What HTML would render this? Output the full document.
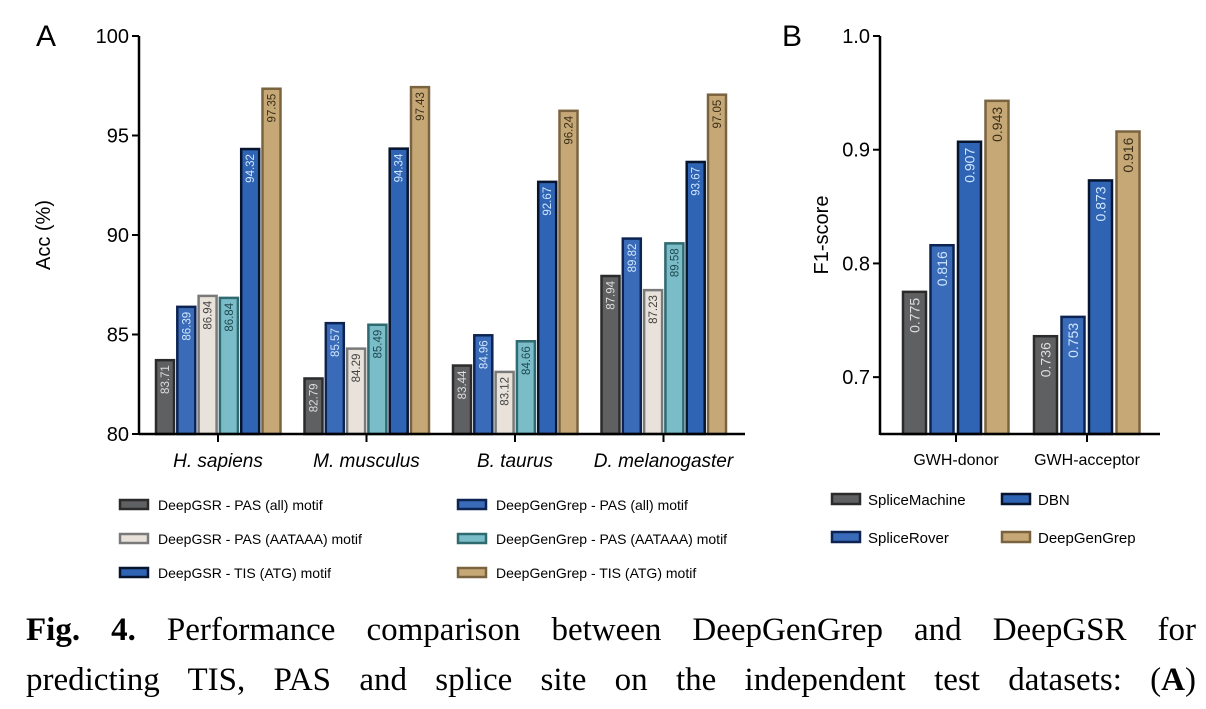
<!DOCTYPE html>
<html><head><meta charset="utf-8"><style>
body{margin:0;background:#fff;width:1206px;height:709px;overflow:hidden;position:relative}
svg{position:absolute;left:0;top:0}
.cap{position:absolute;left:26px;width:1170px;font-family:"Liberation Serif",serif;font-size:33px;line-height:50px;text-align:justify;text-align-last:justify;color:#000;height:50px;overflow:hidden}
</style></head><body>
<svg id="chart" width="1206" height="600" font-family="Liberation Sans, sans-serif"></svg>
<div class="cap" style="top:605px"><b>Fig. 4.</b> Performance comparison between DeepGenGrep and DeepGSR for</div>
<div class="cap" style="top:655px">predicting TIS, PAS and splice site on the independent test datasets: (<b>A</b>)</div>
<script>
const catsA=["H. sapiens","M. musculus","B. taurus","D. melanogaster"];
const seriesA=[
 [83.71,82.79,83.44,87.94],
 [86.39,85.57,84.96,89.82],
 [86.94,84.29,83.12,87.23],
 [86.84,85.49,84.66,89.58],
 [94.32,94.34,92.67,93.67],
 [97.35,97.43,96.24,97.05]];
const ticksA=[80,85,90,95,100];
const legendA=["DeepGSR - PAS (all) motif","DeepGSR - PAS (AATAAA) motif","DeepGSR - TIS (ATG) motif","DeepGenGrep - PAS (all) motif","DeepGenGrep - PAS (AATAAA) motif","DeepGenGrep - TIS (ATG) motif"];
const catsB=["GWH-donor","GWH-acceptor"];
const seriesB=[[0.775,0.736],[0.816,0.753],[0.907,0.873],[0.943,0.916]];
const ticksB=[0.7,0.8,0.9,1.0];
const legendB=["SpliceMachine","DBN","SpliceRover","DeepGenGrep"];

const svg=document.getElementById('chart');
const NS='http://www.w3.org/2000/svg';
function mk(t,a,p){const e=document.createElementNS(NS,t);for(const k in a)e.setAttribute(k,a[k]);(p||svg).appendChild(e);return e;}
function txt(x,y,s,a){const e=mk('text',Object.assign({x:x,y:y},a||{}));e.textContent=s;return e;}

const stA=[{f:"#5f6062",s:"#2b2b2b",t:"#ddd"},{f:"#3a6bb8",s:"#0d2452",t:"#cfe6ff"},{f:"#e9e2da",s:"#7a7a7a",t:"#444"},{f:"#7bbcc9",s:"#2f6a70",t:"#1e4a50"},{f:"#2f63b3",s:"#06142e",t:"#cfe6ff"},{f:"#c6a877",s:"#7a6440",t:"#3a2e18"}];
const stB=[stA[0],stA[1],stA[4],stA[5]];

// Panel A
const ax0=139,ax1=745,ayTop=36,ayBot=434,vMin=80,vMax=100;
const yA=v=>ayBot-(v-vMin)/(vMax-vMin)*(ayBot-ayTop);
const cxA=i=>218+i*148.5;
txt(36,46,"A",{"font-size":30,fill:"#000"});
const ytA=txt(50,235,"Acc (%)",{"font-size":20,"text-anchor":"middle",transform:"rotate(-90 50 235)"});

ticksA.forEach(t=>{const y=yA(t);mk('line',{x1:ax0-7,x2:ax0,y1:y,y2:y,stroke:"#000","stroke-width":2});
 const l=txt(ax0-10,y+7,String(t),{"font-size":20,"text-anchor":"end"});});
const bw=18,step=21.3;
seriesA.forEach((ser,si)=>ser.forEach((v,ci)=>{
 const x=cxA(ci)-62+si*step, y=yA(v);
 const r=mk('rect',{x:x,y:y,width:bw,height:ayBot-y,fill:stA[si].f,stroke:stA[si].s,"stroke-width":2.5});
 
 const tx=x+bw/2+4,ty=y+5;
 const l=txt(tx,ty,v.toFixed(2),{"font-size":11.5,fill:stA[si].t,"text-anchor":"end",transform:`rotate(-90 ${tx} ${ty})`});
 
}));
mk('line',{x1:ax0,x2:ax0,y1:ayTop,y2:ayBot+1,stroke:"#000","stroke-width":2.5});
mk('line',{x1:ax0,x2:ax1,y1:ayBot,y2:ayBot,stroke:"#000","stroke-width":2.5});
catsA.forEach((c,i)=>{mk('line',{x1:cxA(i),x2:cxA(i),y1:ayBot,y2:ayBot+8,stroke:"#000","stroke-width":2});
 const l=txt(cxA(i),467,c,{"font-size":19,"font-style":"italic","text-anchor":"middle"});});
const legOrder=[0,2,4,1,3,5];
legendA.forEach((s,i)=>{const col=Math.floor(i/3),row=i%3;const x=120+col*338,y=505+row*34;
 const g=mk('g',{});
 const st=stA[legOrder[i]];
 mk('rect',{x:x,y:y-5,width:28,height:9,fill:st.f,stroke:st.s,"stroke-width":2.5},g);
 const t=mk('text',{x:x+38,y:y+5,"font-size":14},g);t.textContent=s;});

// Panel B
const bx0=880,bx1=1160,byTop=36,byBot=434,bMin=0.65,bMax=1.0;
const yB=v=>byBot-(v-bMin)/(bMax-bMin)*(byBot-byTop);
const cxB=i=>956+i*131;
txt(782,46,"B",{"font-size":30});
const ytB=txt(828,235,"F1-score",{"font-size":20,"text-anchor":"middle",transform:"rotate(-90 828 235)"});

ticksB.forEach(t=>{const y=yB(t);mk('line',{x1:bx0-7,x2:bx0,y1:y,y2:y,stroke:"#000","stroke-width":2});
 const l=txt(bx0-10,y+7,t.toFixed(1),{"font-size":20,"text-anchor":"end"});});
const bwB=23,stepB=27.5;
seriesB.forEach((ser,si)=>ser.forEach((v,ci)=>{
 const x=cxB(ci)-53+si*stepB,y=yB(v);
 const r=mk('rect',{x:x,y:y,width:bwB,height:byBot-y,fill:stB[si].f,stroke:stB[si].s,"stroke-width":2.5});
 
 const tx=x+bwB/2+5,ty=y+6;
 const l=txt(tx,ty,v.toFixed(3),{"font-size":14,fill:stB[si].t,"text-anchor":"end",transform:`rotate(-90 ${tx} ${ty})`});
 
}));
mk('line',{x1:bx0,x2:bx0,y1:byTop,y2:byBot+1,stroke:"#000","stroke-width":2.5});
mk('line',{x1:bx0,x2:bx1,y1:byBot,y2:byBot,stroke:"#000","stroke-width":2.5});
catsB.forEach((c,i)=>{mk('line',{x1:cxB(i),x2:cxB(i),y1:byBot,y2:byBot+8,stroke:"#000","stroke-width":2});
 const l=txt(cxB(i),465,c,{"font-size":16,"text-anchor":"middle"});});
const legB=[0,2,1,3];
legendB.forEach((s,i)=>{const col=i%2,row=Math.floor(i/2);const x=832+col*170,y=499+row*38;
 const g=mk('g',{});
 const st=stB[legB[i]];
 mk('rect',{x:x,y:y-5,width:28,height:10,fill:st.f,stroke:st.s,"stroke-width":2.5},g);
 const t=mk('text',{x:x+36,y:y+6,"font-size":15},g);t.textContent=s;});
</script>
</body></html>
